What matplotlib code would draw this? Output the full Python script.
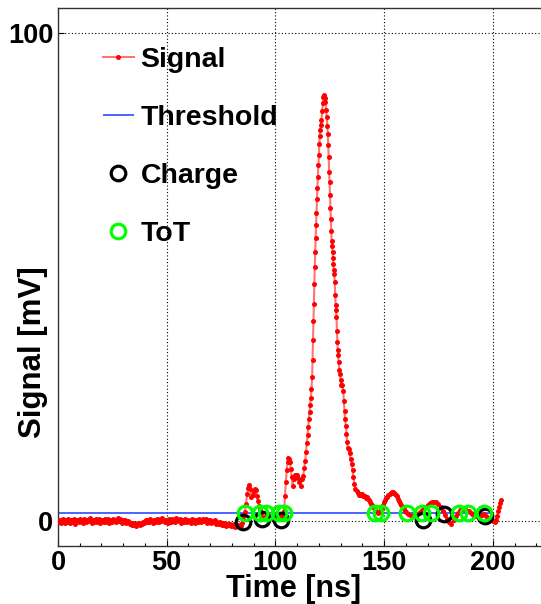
import matplotlib
matplotlib.use("Agg")
import matplotlib.pyplot as plt
from matplotlib.ticker import MultipleLocator, FixedLocator

# ---------------- data ----------------
# baseline samples every 0.5 ns from 0 to 83.5 ns
baseline_t = [i * 0.5 for i in range(168)]
baseline_v = [0.2, -0.3, 0.1, -0.5, 0.0, 0.3, -0.4, 0.1, -0.2, 0.4,
              -0.1, -0.5, 0.2, 0.0, -0.3, 0.3, -0.6, 0.1, 0.2, -0.2,
              0.4, -0.1, 0.0, -0.4, 0.3, 0.1, -0.3, 0.2, -0.1, 0.5,
              0.0, -0.4, 0.2, -0.2, 0.1, 0.4, -0.3, 0.0, 0.3, -0.5,
              0.1, 0.2, -0.3, 0.4, 0.0, -0.2, 0.3, -0.4, 0.1, 0.0,
              -0.3, 0.4, 0.2, -0.2, 0.1, 0.5, -0.1, 0.3, 0.0, -0.4,
              0.2, -0.2, 0.1, -0.5, 0.0, -0.3, -0.6, -0.4, -0.8, -0.5,
              -0.9, -0.6, -1.0, -0.7, -0.5, -0.9, -0.4, -0.7, -0.2, -0.5,
              -0.1, 0.2, -0.3, 0.1, -0.2, 0.3, 0.0, -0.4, 0.2, 0.1,
              -0.3, 0.4, 0.0, -0.2, 0.3, -0.1, 0.5, 0.1, -0.3, 0.2,
              0.0, -0.4, 0.3, 0.1, -0.2, 0.4, 0.0, 0.2, -0.3, 0.5,
              0.1, -0.1, 0.3, -0.4, 0.2, 0.0, -0.2, 0.4, 0.1, -0.3,
              0.2, 0.0, -0.4, 0.3, -0.1, 0.1, -0.5, 0.2, 0.0, -0.3,
              0.4, 0.1, -0.2, 0.3, -0.1, 0.0, 0.3, -0.4, 0.2, -0.2,
              0.1, -0.5, 0.0, -0.3, 0.2, -0.6, -0.2, -0.4, -0.7, -0.3,
              -0.6, -0.9, -0.5, -0.8, -0.4, -1.0, -0.7, -0.9, -0.6, -1.1,
              -0.8, -1.0, -0.7, -1.2, -0.9, -1.1, -0.8, -1.0]

pulse_t = [84.0, 84.5, 85.0, 85.5, 86.0, 86.5, 87.0, 87.5, 88.0, 88.5,
           89.0, 89.5, 90.0, 90.5, 91.0, 91.5, 92.0, 92.5, 93.0, 93.5,
           94.0, 95.0, 96.0, 97.0, 98.0, 99.0, 100.0, 101.0, 102.0, 103.0,
           103.5, 104.0, 104.4, 104.8, 105.2, 105.6, 105.9, 106.3, 106.7, 107.1,
           107.5, 107.9, 108.4, 109.0, 109.5, 110.0, 110.5, 111.0, 111.6, 112.2,
           112.8, 113.3, 113.7, 114.1, 114.5, 114.8, 115.1, 115.4, 115.7, 116.0,
           116.3, 116.6, 116.9, 117.1, 117.3, 117.5, 117.7, 117.9, 118.1, 118.3,
           118.5, 118.7, 118.9, 119.1, 119.3, 119.5, 119.8, 120.0, 120.2, 120.4,
           120.6, 120.9, 121.2, 121.5, 121.8, 122.1, 122.4, 122.7, 123.0, 123.3,
           123.6, 123.9, 124.1, 124.3, 124.5, 124.7, 124.9, 125.1, 125.3, 125.5,
           125.7, 125.9, 126.1, 126.3, 126.5, 126.7, 126.9, 127.1, 127.3, 127.5,
           127.7, 127.9, 128.1, 128.3, 128.5, 128.7, 128.9, 129.1, 129.4, 129.7,
           130.0, 130.4, 130.8, 131.2, 131.5, 131.8, 132.1, 132.4, 132.7, 133.0,
           133.3, 133.7, 134.1, 134.6, 135.1, 135.5, 135.9, 136.3, 136.8, 137.4,
           138.0, 138.5, 139.0, 139.5, 140.0, 140.5, 141.0, 141.5, 142.0, 142.5,
           143.0, 143.5, 144.0, 144.5, 145.0, 145.5, 146.0, 146.5, 147.0, 147.5,
           148.0, 148.5, 149.0, 149.5, 150.0, 150.5, 151.0, 151.5, 152.0, 152.5,
           153.0, 153.5, 154.0, 154.5, 155.0, 155.5, 156.0, 156.5, 157.0, 157.5,
           158.0, 158.5, 159.0, 159.5, 160.0, 161.0, 162.0, 163.0, 164.0, 165.0,
           166.0, 167.0, 168.0, 169.0, 170.0, 171.0, 172.0, 173.0, 174.0, 175.0,
           176.0, 177.0, 178.0, 179.0, 180.0, 181.0, 182.0, 183.0, 184.0, 185.0,
           186.0, 187.0, 188.0, 189.0, 190.0, 191.0, 192.0, 193.0, 194.0, 195.0,
           196.0, 197.0, 198.0, 199.0, 200.0, 201.0, 201.5, 202.0, 202.5, 203.0,
           203.5, 204.0]
pulse_v = [-1.0, -0.5, 0.3, 1.2, 1.8, 3.5, 5.5, 6.8, 7.4, 6.6,
           4.8, 5.3, 6.0, 6.4, 6.2, 5.0, 4.0, 3.0, 2.2, 1.3,
           0.6, 0.8, 1.4, 1.0, 0.5, 1.2, 0.8, 1.3, 0.9, 0.5,
           1.0, 1.9, 5.0, 8.0, 10.4, 12.0, 12.8, 12.6, 12.1, 10.5,
           9.0, 7.2, 8.6, 9.4, 9.0, 9.3, 8.8, 8.0, 7.1, 8.5,
           9.2, 10.8, 12.2, 14.1, 16.0, 17.5, 19.3, 20.8, 22.2, 23.8,
           25.2, 27.0, 29.5, 33.0, 37.0, 41.0, 44.5, 48.5, 52.0, 55.0,
           58.0, 60.5, 63.0, 66.0, 68.2, 70.5, 72.8, 75.0, 77.2, 78.8,
           80.0, 81.0, 82.2, 84.0, 85.5, 86.9, 87.2, 86.7, 85.9, 84.2,
           82.8, 80.9, 79.3, 77.0, 74.6, 71.5, 69.5, 66.8, 64.0, 61.8,
           59.3, 57.3, 56.2, 55.0, 53.8, 52.6, 51.3, 50.5, 49.0, 46.2,
           44.2, 43.2, 41.8, 38.8, 36.7, 35.0, 34.0, 32.5, 30.8, 30.0,
           28.8, 27.9, 27.8, 26.6, 24.5, 22.4, 20.9, 19.4, 17.7, 16.2,
           14.9, 14.6, 13.9, 12.6, 11.6, 10.3, 9.0, 7.6, 6.6, 6.0,
           5.7, 5.3, 5.2, 5.5, 5.4, 5.1, 5.0, 4.7, 4.8, 4.5,
           4.3, 3.8, 3.5, 3.2, 2.9, 2.6, 2.2, 1.9, 1.6, 1.8,
           1.9, 2.2, 2.5, 3.2, 3.8, 4.3, 4.6, 4.9, 5.2, 5.4,
           5.6, 5.8, 5.8, 5.7, 5.5, 5.2, 5.0, 4.5, 4.0, 3.6,
           3.2, 2.8, 2.3, 2.0, 1.8, 1.4, 1.2, 1.0, 0.9, 1.3,
           1.6, 2.0, 2.4, 2.8, 3.2, 3.6, 3.8, 3.9, 3.8, 3.4,
           2.9, 2.0, 1.1, 0.3, -0.3, -0.6, 0.2, 1.0, 1.6, 2.2,
           2.5, 2.3, 1.9, 2.0, 1.6, 1.2, 0.9, 0.8, 1.0, 1.2,
           1.3, 1.0, 0.6, 0.3, 0.0, -0.2, 0.2, 1.0, 1.9, 2.8,
           3.6, 4.2]

signal_t = baseline_t + pulse_t
signal_v = baseline_v + pulse_v

threshold_v = 1.5
threshold_t_start = 0.0
threshold_t_end = 200.0

charge_t = [85.3, 93.8, 102.4, 168.0, 177.4, 196.6]
charge_v = [-0.3, 0.3, 0.1, 0.1, 1.4, 0.9]

tot_t = [86.0, 93.0, 95.8, 101.8, 104.0, 145.6, 148.4, 160.4, 167.6, 171.4,
         184.6, 188.4, 196.0]
tot_v = [1.5] * len(tot_t)

x_major = [0, 50, 100, 150, 200]
y_major = [0, 100]

# ---------------- figure ----------------
W, H = 541, 604
fig = plt.figure(figsize=(W / 100, H / 100), dpi=100)
ax = fig.add_axes([58 / W, 58.5 / H, 484.8 / W, 537.2 / H])
ax.set_xlim(0, 223)
ax.set_ylim(-5.08, 105.0)

font = "Liberation Sans"

(l_sig,) = ax.plot(signal_t, signal_v, color=(1, 0, 0, 0.55), lw=1.5,
                   marker="o", ms=3.6, mfc="red", mec="red", mew=0,
                   label="Signal", zorder=3)
l_thr = ax.hlines(threshold_v, threshold_t_start, threshold_t_end,
                  color="#2a4bff", lw=1.2, zorder=2, label="Threshold")
(l_ch,) = ax.plot(charge_t, charge_v, "o", ms=10.5, mfc="none", mec="black",
                  mew=2.3, label="Charge", zorder=4)
(l_tot,) = ax.plot(tot_t, tot_v, "o", ms=10.5, mfc="none", mec="#00ff00",
                   mew=2.3, label="ToT", zorder=5)

# axes styling (ROOT-like)
ax.xaxis.set_major_locator(FixedLocator(x_major))
ax.xaxis.set_minor_locator(MultipleLocator(10))
ax.yaxis.set_major_locator(FixedLocator(y_major))
ax.yaxis.set_minor_locator(FixedLocator([]))
ax.tick_params(axis="both", which="both", direction="in", width=0.8,
               color="black")
ax.tick_params(axis="both", which="major", length=4)
ax.tick_params(axis="x", which="minor", length=2)
ax.tick_params(axis="x", which="major", pad=3.6)
ax.tick_params(axis="y", which="major", pad=3.5)
for lab in ax.get_xticklabels() + ax.get_yticklabels():
    lab.set_fontfamily(font)
    lab.set_fontweight("bold")
    lab.set_fontsize(19.5)
ax.grid(True, which="major", color="black", lw=0.8, ls=(0, (1, 2)))
ax.set_axisbelow(True)
ax.spines["right"].set_visible(False)
for s in ["left", "top", "bottom"]:
    ax.spines[s].set_linewidth(1.0)
    ax.spines[s].set_color("#333333")

fig.text(293.5 / W, 1 - 597.5 / H, "Time [ns]", ha="center", va="baseline",
         fontfamily=font, fontweight="bold", fontsize=22)
fig.text(41 / W, 1 - 352 / H, "Signal [mV]", rotation=90,
         rotation_mode="anchor", ha="center", va="baseline",
         fontfamily=font, fontweight="bold", fontsize=22.5)

leg = ax.legend(handles=[l_sig, l_thr, l_ch, l_tot],
                labels=["Signal", "Threshold", "Charge", "ToT"],
                loc="upper left", bbox_to_anchor=(103 / W, 1 - 47 / H),
                bbox_transform=fig.transFigure, frameon=False,
                borderpad=0, borderaxespad=0, handlelength=1.08,
                handletextpad=0.24, labelspacing=1.12, numpoints=1,
                prop={"family": font, "weight": "bold", "size": 20.5})

fig.savefig("out.png", dpi=100)
